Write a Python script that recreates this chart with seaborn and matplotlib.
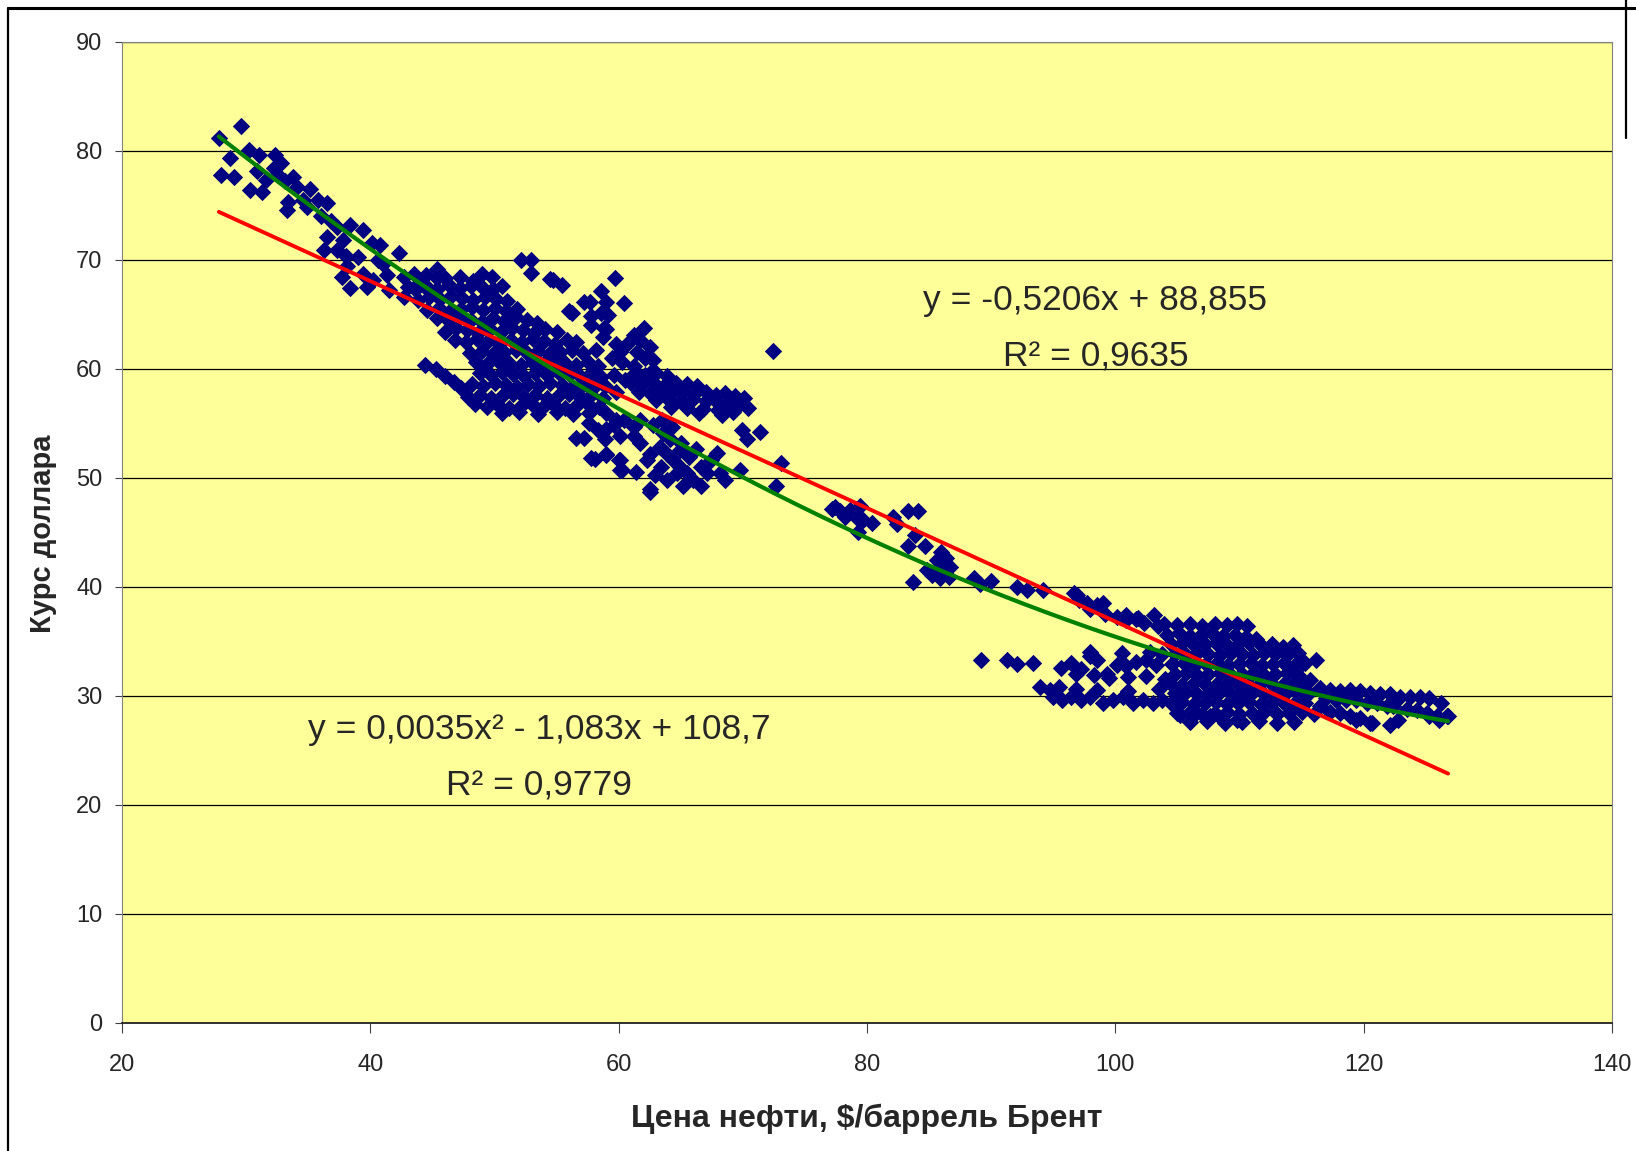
import numpy as np
import pandas as pd
import seaborn as sns
import matplotlib.pyplot as plt
from matplotlib.lines import Line2D

# Daily observations: Brent price ($/bbl) vs. USD/RUB rate, grouped by period
early_2015 = [
    (27.8, 81.2), (29.6, 82.3), (28.7, 79.3), (28.0, 77.8), (29.0, 77.6), (30.2, 80.1),
    (31.0, 79.6), (30.9, 78.1), (30.3, 76.4), (31.3, 76.2), (32.3, 79.6), (32.2, 78.4),
    (32.6, 77.8), (33.1, 77.2), (33.8, 77.6), (34.1, 76.7), (35.1, 76.5), (34.6, 75.5),
    (33.3, 74.6), (33.4, 75.3), (35.8, 75.5), (36.5, 75.2), (36.8, 73.5), (37.3, 73.0),
    (36.5, 72.1), (36.3, 70.9), (37.3, 70.9), (38.4, 73.2), (38.0, 70.3), (38.1, 69.4),
    (39.4, 72.7), (40.1, 71.5), (40.8, 71.3), (42.3, 70.6), (37.7, 68.4), (38.4, 67.4),
    (39.4, 68.7), (39.7, 67.5), (40.2, 68.1), (41.3, 68.6), (42.7, 68.4), (43.5, 68.7),
    (41.5, 67.2), (42.7, 66.6), (44.0, 67.7), (45.4, 69.1), (45.4, 68.3), (44.8, 67.0),
    (32.8, 78.9), (31.6, 77.3), (34.9, 74.8), (36.0, 74.0), (37.8, 71.8), (39.0, 70.2),
    (41.0, 69.6), (43.0, 67.5), (40.6, 70.0),
]

core_2016 = [
    (44.5, 68.6), (46.0, 68.3), (47.2, 68.4), (48.3, 68.0), (49.0, 68.7), (49.8, 68.4),
    (43.5, 67.4), (44.5, 67.6), (45.4, 67.3), (46.3, 67.7), (47.2, 67.4), (48.1, 67.6),
    (49.0, 67.5), (49.9, 67.3), (50.6, 67.6),
    (43.8, 66.3), (44.7, 66.6), (45.6, 66.4), (46.5, 66.7), (47.4, 66.5), (48.3, 66.3),
    (49.2, 66.6), (50.1, 66.4), (51.0, 66.2),
    (44.6, 65.4), (45.5, 65.6), (46.4, 65.3), (47.3, 65.5), (48.2, 65.7), (49.1, 65.4),
    (50.0, 65.6), (50.9, 65.3), (51.8, 65.5),
    (45.4, 64.6), (46.3, 64.4), (47.2, 64.7), (48.1, 64.5), (49.0, 64.3), (49.9, 64.6),
    (50.8, 64.4), (51.7, 64.7), (52.6, 64.5), (53.4, 64.2),
    (46.0, 63.4), (46.9, 63.7), (47.8, 63.5), (48.7, 63.3), (49.6, 63.6), (50.5, 63.4),
    (51.4, 63.7), (52.3, 63.5), (53.2, 63.3), (54.1, 63.6), (55.0, 63.4),
    (46.8, 62.6), (47.7, 62.4), (48.6, 62.7), (49.5, 62.5), (50.4, 62.3), (51.3, 62.6),
    (52.2, 62.4), (53.1, 62.7), (54.0, 62.5), (54.9, 62.3), (55.8, 62.6), (56.6, 62.4),
    (48.0, 61.4), (49.0, 61.6), (49.9, 61.3), (50.8, 61.5), (51.7, 61.7), (52.6, 61.4),
    (53.5, 61.6), (54.4, 61.3), (55.3, 61.5), (56.2, 61.7), (57.1, 61.4),
    (44.4, 60.3), (45.3, 60.0), (48.5, 60.6), (49.4, 60.4), (50.3, 60.7), (51.2, 60.5),
    (52.1, 60.3), (53.0, 60.6), (53.9, 60.4), (54.8, 60.7), (55.7, 60.5), (56.6, 60.3),
    (57.5, 60.6),
    (46.0, 59.3), (46.7, 58.8), (48.8, 59.6), (49.7, 59.4), (50.6, 59.7), (51.5, 59.5),
    (52.4, 59.3), (53.3, 59.6), (54.2, 59.4), (55.1, 59.7), (56.0, 59.5), (56.9, 59.3),
    (57.8, 59.6),
    (47.3, 58.2), (48.2, 58.6), (49.1, 58.4), (50.0, 58.7), (50.9, 58.5), (51.8, 58.3),
    (52.7, 58.6), (53.6, 58.4), (54.5, 58.7), (55.4, 58.5), (56.3, 58.3), (57.2, 58.6),
    (58.1, 58.4),
    (47.9, 57.4), (48.8, 57.6), (49.7, 57.3), (50.6, 57.5), (51.5, 57.7), (52.4, 57.4),
    (53.3, 57.6), (54.2, 57.3), (55.1, 57.5), (56.0, 57.7), (56.9, 57.4), (57.8, 57.6),
    (58.7, 57.3),
    (48.4, 56.8), (49.4, 56.5), (50.3, 56.7), (51.2, 56.4), (52.1, 56.6), (53.0, 56.8),
    (53.9, 56.5), (54.8, 56.7), (55.7, 56.4), (56.6, 56.6), (57.5, 56.8), (58.4, 56.5),
    (50.6, 55.9), (52.0, 56.0), (53.5, 55.8), (55.0, 56.0), (56.3, 55.8), (57.6, 55.9),
]

upper_2017 = [
    (59.7, 68.3), (60.4, 66.0), (59.1, 64.9), (59.0, 63.6), (58.6, 65.1), (57.7, 66.1),
    (58.6, 67.1), (59.0, 66.1), (56.2, 65.1), (57.8, 64.8), (57.8, 64.0), (58.8, 63.7),
    (58.7, 62.9), (62.0, 63.7), (61.2, 63.1), (59.8, 62.3), (60.7, 62.3), (61.7, 62.6),
    (62.5, 62.0), (62.8, 60.8), (62.5, 59.6), (59.5, 61.0), (60.3, 60.6), (61.2, 60.2),
    (59.6, 59.4), (60.5, 59.0), (61.5, 59.6), (58.2, 61.7), (58.3, 60.2), (58.6, 59.2),
    (58.9, 58.4), (59.8, 57.9), (60.1, 61.5), (61.5, 61.5), (62.1, 61.0),
    (52.1, 70.0), (52.9, 70.0), (52.9, 68.8), (54.7, 68.1), (55.4, 67.7), (54.5, 68.2),
    (56.0, 65.3), (57.2, 66.1), (72.4, 61.6),
]

band_2017 = [
    (61.2, 59.5), (62.1, 59.4), (63.0, 59.6), (63.9, 59.3),
    (61.0, 58.7), (61.9, 58.6), (62.8, 58.8), (63.7, 58.5), (64.6, 58.7), (65.5, 58.6),
    (66.3, 58.4),
    (61.6, 57.9), (62.5, 57.8), (63.4, 58.0), (64.3, 57.8), (65.2, 57.9), (66.1, 57.7),
    (67.0, 57.9), (67.8, 57.6), (68.6, 57.8), (69.4, 57.5), (70.1, 57.3),
    (63.0, 57.1), (64.0, 57.2), (65.0, 57.0), (66.0, 57.2), (67.0, 57.0), (67.9, 56.9),
    (68.8, 56.8), (69.6, 56.6), (70.4, 56.4),
    (64.2, 56.5), (65.5, 56.4), (66.8, 56.3), (68.0, 56.2), (69.2, 56.0),
    (66.5, 55.9), (68.3, 55.7),
]

lower_2017 = [
    (57.2, 53.6), (57.8, 51.8), (58.9, 53.5), (59.0, 52.1), (60.1, 51.6), (60.1, 50.7),
    (59.6, 54.8), (60.4, 55.3), (61.7, 53.2), (62.5, 52.2), (62.5, 49.0), (61.2, 54.6),
    (62.5, 48.7), (62.3, 51.6), (63.3, 52.8), (63.9, 52.2), (64.4, 51.6), (64.9, 51.0),
    (65.5, 50.4), (66.0, 49.8), (66.6, 49.2), (67.1, 50.4), (66.6, 51.0), (65.7, 51.9),
    (64.9, 52.5), (64.1, 53.5), (63.6, 54.1), (64.7, 50.4), (63.9, 49.8), (65.2, 49.2),
    (67.4, 51.6), (68.2, 50.4), (69.8, 50.7), (70.3, 53.5), (71.4, 54.2), (69.9, 54.4),
    (73.1, 51.3), (72.7, 49.2), (59.0, 55.9), (59.8, 55.3), (59.0, 54.5), (60.1, 53.8),
    (59.0, 52.2), (60.0, 51.6), (60.3, 50.7), (61.2, 53.8), (61.7, 55.3), (62.8, 54.8),
    (63.5, 55.3), (64.3, 54.6), (56.6, 53.6), (58.1, 51.7), (57.6, 55.0), (58.3, 54.4),
    (65.0, 53.2), (66.2, 52.6), (67.9, 52.3), (68.6, 49.8), (62.9, 50.2), (61.4, 50.5),
    (63.4, 51.0),
]

middle_2011 = [
    (77.4, 47.3), (77.8, 46.9), (78.2, 46.4), (78.6, 47.0), (79.4, 47.4), (79.2, 47.1),
    (79.7, 46.1), (80.4, 45.8), (79.3, 45.0), (82.1, 46.4), (82.4, 45.7), (83.3, 46.9),
    (84.1, 46.9), (83.9, 44.7), (83.3, 43.7), (84.7, 43.7), (86.0, 43.2), (86.4, 42.6),
    (85.6, 42.4), (86.1, 41.8), (86.7, 41.8), (85.6, 41.2), (84.8, 41.5), (85.9, 40.8),
    (86.6, 40.9), (85.2, 41.1), (83.7, 40.4), (88.6, 40.8), (89.1, 40.2), (90.0, 40.5),
    (92.1, 40.0), (77.2, 47.1), (79.3, 46.2),
]

upper_2014 = [
    (92.9, 39.7), (94.2, 39.7), (96.9, 39.2), (97.7, 38.5), (98.5, 38.3), (99.0, 38.5),
    (98.0, 37.9), (100.1, 37.2), (100.9, 37.4), (101.7, 37.0), (103.1, 37.4), (103.9, 36.6),
    (96.7, 39.4), (97.1, 38.8), (99.2, 37.5), (100.9, 36.9), (101.8, 37.1), (103.4, 36.4),
    (102.3, 36.7),
]

rows_2012 = [
    (89.2, 33.3), (91.3, 33.3), (92.1, 32.9), (93.4, 33.0), (95.6, 32.5), (96.4, 33.0),
    (97.2, 32.4), (98.0, 33.6), (98.5, 33.3), (99.3, 32.0), (100.1, 32.8), (100.9, 32.7),
    (101.7, 33.1), (102.5, 33.3), (103.3, 32.8), (98.0, 34.0), (100.5, 33.9), (102.8, 34.0),
    (103.8, 33.8), (99.5, 31.6), (101.0, 31.7), (102.5, 31.8), (104.0, 31.5), (96.8, 32.0),
    (98.3, 31.9),
    (93.9, 30.8), (94.7, 30.5), (95.5, 30.8), (95.0, 29.9), (95.7, 29.6), (96.4, 29.9),
    (97.2, 29.6), (98.0, 29.9), (99.0, 29.3), (99.8, 29.6), (100.6, 29.9), (101.4, 29.3),
    (102.2, 29.6), (103.0, 29.3), (103.8, 29.6), (98.5, 30.5), (101.0, 30.4), (103.5, 30.6),
    (96.8, 30.6),
    (105.2, 28.2), (106.5, 28.4), (107.6, 28.1), (108.7, 27.8), (109.8, 27.8),
]

dense_2013 = [
    (105.0, 36.5), (106.0, 36.6), (107.0, 36.4), (108.0, 36.6), (109.0, 36.5), (109.8, 36.6),
    (110.6, 36.4),
    (104.2, 35.6), (105.1, 35.7), (106.0, 35.5), (106.9, 35.6), (107.8, 35.7), (108.7, 35.5),
    (109.6, 35.6), (110.5, 35.4), (111.3, 35.2),
    (104.5, 34.7), (105.4, 34.8), (106.3, 34.6), (107.2, 34.7), (108.1, 34.8), (109.0, 34.6),
    (109.9, 34.7), (110.8, 34.8), (111.7, 34.6), (112.6, 34.7), (113.5, 34.5), (114.3, 34.6),
    (104.8, 33.8), (105.7, 33.7), (106.6, 33.9), (107.5, 33.8), (108.4, 33.7), (109.3, 33.9),
    (110.2, 33.8), (111.1, 33.7), (112.0, 33.9), (112.9, 33.8), (113.8, 33.7), (114.7, 33.9),
    (104.6, 32.9), (105.5, 33.0), (106.4, 32.8), (107.3, 32.9), (108.2, 33.0), (109.1, 32.8),
    (110.0, 32.9), (110.9, 33.0), (111.8, 32.8), (112.7, 32.9), (113.6, 33.0), (114.5, 32.8),
    (115.3, 33.0),
    (104.8, 32.0), (105.7, 32.1), (106.6, 31.9), (107.5, 32.0), (108.4, 32.1), (109.3, 31.9),
    (110.2, 32.0), (111.1, 32.1), (112.0, 31.9), (112.9, 32.0), (113.8, 32.1), (114.7, 31.9),
    (104.5, 31.1), (105.4, 31.0), (106.3, 31.2), (107.2, 31.1), (108.1, 31.0), (109.0, 31.2),
    (109.9, 31.1), (110.8, 31.0), (111.7, 31.2), (112.6, 31.1), (113.5, 31.0), (114.4, 31.2),
    (115.2, 31.1),
    (104.8, 30.2), (105.7, 30.3), (106.6, 30.1), (107.5, 30.2), (108.4, 30.3), (109.3, 30.1),
    (110.2, 30.2), (111.1, 30.3), (112.0, 30.1), (112.9, 30.2), (113.8, 30.3), (114.7, 30.1),
    (115.6, 30.2),
    (104.5, 29.3), (105.4, 29.4), (106.3, 29.2), (107.2, 29.3), (108.1, 29.4), (109.0, 29.2),
    (109.9, 29.3), (110.8, 29.4), (111.7, 29.2), (112.6, 29.3), (113.5, 29.4), (114.4, 29.2),
    (115.3, 29.3),
    (105.0, 28.4), (106.0, 28.5), (107.0, 28.3), (108.0, 28.4), (109.0, 28.5), (110.0, 28.3),
    (111.0, 28.4), (112.0, 28.5), (113.0, 28.3), (114.0, 28.4), (115.0, 28.5), (116.0, 28.3),
    (106.0, 27.6), (107.4, 27.7), (108.8, 27.5), (110.2, 27.6), (111.6, 27.7), (113.0, 27.5),
    (114.4, 27.6),
    (116.2, 33.3), (115.1, 33.0), (115.7, 31.4),
]

tail_2013 = [
    (116.5, 30.7), (117.3, 30.5), (118.1, 30.4), (118.9, 30.5), (119.7, 30.4), (120.5, 30.2),
    (121.3, 30.1), (122.1, 30.1), (122.9, 29.9), (123.7, 29.9), (124.5, 29.9), (125.3, 29.8),
    (126.2, 29.3), (126.7, 28.1), (125.9, 28.1), (125.1, 28.4), (124.3, 28.7), (123.5, 28.8),
    (122.4, 29.0), (121.9, 29.0), (121.1, 29.3), (120.3, 29.3), (119.4, 29.6), (118.6, 29.6),
    (117.8, 29.6), (117.0, 29.8), (122.1, 27.3), (120.5, 27.5), (119.7, 27.9), (118.9, 28.1),
    (118.1, 28.4), (117.3, 28.5), (116.5, 29.0), (119.4, 27.8), (120.7, 27.5), (122.8, 27.8),
    (125.3, 28.1), (126.1, 27.8), (126.8, 28.1),
]

# Trendline coefficients as printed on the chart
linear_coef = (-0.5206, 88.855)
poly_coef = (0.0035, -1.083, 108.7)
linear_r2 = "0,9635"
poly_r2 = "0,9779"

x_ticks = [20, 40, 60, 80, 100, 120, 140]
y_ticks = [0, 10, 20, 30, 40, 50, 60, 70, 80, 90]

all_points = (early_2015 + core_2016 + upper_2017 + band_2017 + lower_2017
              + middle_2011 + upper_2014 + rows_2012 + dense_2013 + tail_2013)
df = pd.DataFrame(all_points, columns=["brent", "usd"])

sns.set_theme(style="white")
plt.rcParams['font.family'] = ['Liberation Sans', 'DejaVu Sans']

fig = plt.figure(figsize=(16.36, 11.51), dpi=100)
fig.patch.set_facecolor("white")
ax = fig.add_axes([0.0746, 0.1116, 0.9107, 0.8522])
ax.set_facecolor("#FFFF99")

ax.set_xlim(20, 140)
ax.set_ylim(0, 90)
ax.set_yticks(y_ticks)
ax.set_xticks(x_ticks)
for yv in y_ticks[1:]:
    ax.axhline(yv, color="black", lw=0.9, zorder=1)

sns.scatterplot(data=df, x="brent", y="usd", marker="D", color="#000080",
                s=78, linewidth=0, ax=ax, zorder=3, legend=False)

xs = np.linspace(df["brent"].min(), df["brent"].max(), 300)
lin_y = linear_coef[0] * xs + linear_coef[1]
poly_y = poly_coef[0] * xs**2 + poly_coef[1] * xs + poly_coef[2]
sns.lineplot(x=xs, y=lin_y, color="#FF0000", lw=2.8, ax=ax, zorder=4)
sns.lineplot(x=xs, y=poly_y, color="#008000", lw=3.0, ax=ax, zorder=5)

ax.text(98.4, 65.4, "y = -0,5206x + 88,855", ha="center", va="baseline", fontsize=25.5)
ax.text(98.4, 60.2, f"R² = {linear_r2}", ha="center", va="baseline", fontsize=25.5)
ax.text(53.6, 26.0, "y = 0,0035x² - 1,083x + 108,7", ha="center", va="baseline", fontsize=25.5)
ax.text(53.6, 20.8, f"R² = {poly_r2}", ha="center", va="baseline", fontsize=25.5)

for side in ["left", "right", "top"]:
    ax.spines[side].set_color("#808080")
    ax.spines[side].set_linewidth(0.8)
ax.spines["bottom"].set_color("#202020")
ax.spines["bottom"].set_linewidth(1.3)

ax.tick_params(axis="x", direction="out", length=7, width=0.8, color="#404040",
               labelsize=17, pad=16, bottom=True)
ax.tick_params(axis="y", direction="out", length=5, width=0.8, color="#404040",
               labelsize=17, pad=9, left=True)

ax.set_xlabel("Цена нефти, $/баррель Брент", fontsize=23, fontweight="bold")
ax.set_ylabel("Курс доллара", fontsize=21, fontweight="bold")
ax.xaxis.set_label_coords(0.5, -0.098)
ax.xaxis.label.set_va("center")
ax.yaxis.set_label_coords(-0.053, 0.498)
ax.yaxis.label.set_va("center")

# Outer frame lines
W, H = 1636, 1151
fig.add_artist(Line2D([8 / W, 1.0], [1 - 8 / H, 1 - 8 / H], color="black", lw=2.2,
                      transform=fig.transFigure))
fig.add_artist(Line2D([8 / W, 8 / W], [0, 1 - 8 / H], color="black", lw=1.6,
                      transform=fig.transFigure))
fig.add_artist(Line2D([1626 / W, 1626 / W], [1 - 138 / H, 1.0], color="black", lw=1.6,
                      transform=fig.transFigure))

fig.savefig("out.png", dpi=100)
